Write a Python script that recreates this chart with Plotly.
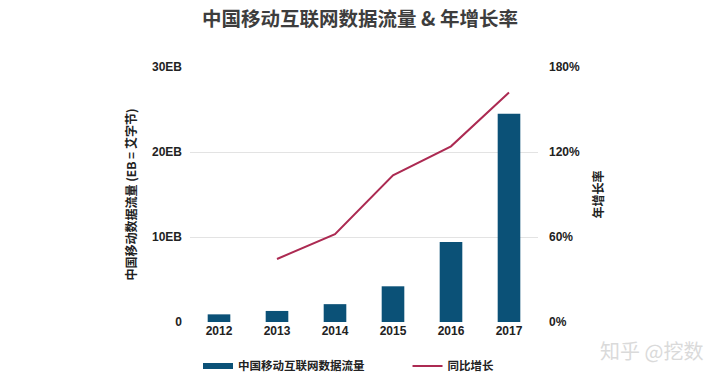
import plotly.graph_objects as go

years = ["2012", "2013", "2014", "2015", "2016", "2017"]
traffic_eb = [0.9, 1.3, 2.1, 4.2, 9.4, 24.5]
growth_pct = [None, 44.5, 62, 103.5, 124, 162]

left_ticks = [0, 10, 20, 30]
left_labels = ["0", "10EB", "20EB", "30EB"]
right_ticks = [0, 60, 120, 180]
right_labels = ["0%", "60%", "120%", "180%"]

BAR_COLOR = "#0b5177"
LINE_COLOR = "#ac2a52"
CJK = "Noto Sans CJK SC, Liberation Sans, sans-serif"
LAT = "Liberation Sans, Arial, Noto Sans CJK SC, sans-serif"
LEG_FONT = dict(family=CJK, size=11.5, color="#222222", weight="bold")

fig = go.Figure()
fig.add_trace(go.Bar(
    x=years, y=traffic_eb, name="中国移动互联网数据流量",
    marker=dict(color=BAR_COLOR, line=dict(width=0)), width=0.39,
    yaxis="y", showlegend=False, legendgroup="bar",
))
# legend-only entry drawn as a thick short bar, like the reference key
fig.add_trace(go.Scatter(
    x=[None], y=[None], name="中国移动互联网数据流量", mode="lines",
    line=dict(color=BAR_COLOR, width=6), legendgroup="bar", yaxis="y",
    legend="legend",
))
fig.add_trace(go.Scatter(
    x=years, y=growth_pct, name="同比增长", mode="lines",
    line=dict(color=LINE_COLOR, width=2), yaxis="y2", legend="legend2",
))

fig.update_layout(
    width=720, height=378,
    margin=dict(l=190, r=182, t=67, b=56, autoexpand=False),
    paper_bgcolor="white", plot_bgcolor="white",
    title=dict(text="中国移动互联网数据流量 &amp; 年增长率", x=0.5, xanchor="center",
               y=0.948, yanchor="middle",
               font=dict(family=CJK, size=19.5, color="#3d3d3d", weight="bold")),
    showlegend=True,
    legend=dict(orientation="h", xref="container", yref="container",
                x=0.275, xanchor="left", y=0.032, yanchor="middle",
                font=LEG_FONT, itemwidth=30),
    legend2=dict(orientation="h", xref="container", yref="container",
                 x=0.566, xanchor="left", y=0.032, yanchor="middle",
                 font=LEG_FONT, itemwidth=30),
    xaxis=dict(type="category", range=[-0.5, 5.5], showgrid=False, zeroline=False,
               showline=False, ticks="",
               tickfont=dict(family=LAT, size=12, color="#222222", weight="bold")),
    yaxis=dict(range=[0, 30], tickvals=left_ticks, ticktext=left_labels,
               showgrid=True, gridcolor="#e3e3e3", gridwidth=1, zeroline=False,
               showline=False, ticks="", ticklabelstandoff=7,
               tickfont=dict(family=LAT, size=12, color="#222222", weight="bold"),
               title=dict(text="中国移动数据流量 (EB = 艾字节)", standoff=12,
                          font=dict(family=CJK, size=12, color="#222222", weight="bold"))),
    yaxis2=dict(range=[0, 180], tickvals=right_ticks, ticktext=right_labels,
                overlaying="y", side="right", showgrid=False, zeroline=False,
                showline=False, ticks="", ticklabelstandoff=10,
                tickfont=dict(family=LAT, size=12, color="#222222", weight="bold"),
                title=dict(text="年增长率", standoff=15,
                           font=dict(family=CJK, size=12, color="#222222", weight="bold"))),
    annotations=[dict(text="知乎 @挖数", xref="paper", yref="paper",
                      x=(651 - 190) / (720 - 190 - 182), y=(322 - 350) / (322 - 67),
                      showarrow=False, xanchor="center", yanchor="middle",
                      font=dict(family=CJK, size=20, color="#dadada"))],
)

fig.write_html("out.html", config={"displayModeBar": False},
               post_script="document.body.style.margin='0';")
